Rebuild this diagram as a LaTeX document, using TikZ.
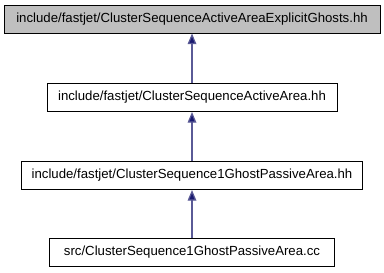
\documentclass[tikz,border=0pt]{standalone}
\usepackage{fontspec}
\setmainfont{Liberation Sans}
\usetikzlibrary{arrows.meta}
\definecolor{edgeblue}{RGB}{25,25,112}
\definecolor{edgeline}{RGB}{90,90,150}
\definecolor{rootgray}{RGB}{191,191,191}

\begin{document}
\begin{tikzpicture}[x=0.75pt, y=-0.75pt,
    filebox/.style={draw=black, line width=0.75pt, fill=white, rectangle,
      minimum height=21pt, inner sep=0pt, font=\fontsize{9.9}{11}\selectfont},
    incl/.style={draw=edgeline, line width=0.9pt,
      -{Triangle[length=8pt, width=6.5pt, fill=edgeblue]}}]

  \useasboundingbox (0,0) rectangle (384,272);

  % === FILES ===
  \node[filebox, fill=rootgray, minimum width=282pt] (explicit) at (192,19)
    {include/fastjet/ClusterSequenceActiveAreaExplicitGhosts.hh};
  \node[filebox, minimum width=217.5pt] (active) at (192,97.5)
    {include/fastjet/ClusterSequenceActiveArea.hh};
  \node[filebox, minimum width=255.75pt] (passivehh) at (192,175.5)
    {include/fastjet/ClusterSequence1GhostPassiveArea.hh};
  \node[filebox, minimum width=213.75pt] (passivecc) at (192,252)
    {src/ClusterSequence1GhostPassiveArea.cc};

  % === INCLUDE EDGES ===
  \draw[incl] (active) -- (explicit);
  \draw[incl] (passivehh) -- (active);
  \draw[incl] (passivecc) -- (passivehh);

\end{tikzpicture}
\end{document}
